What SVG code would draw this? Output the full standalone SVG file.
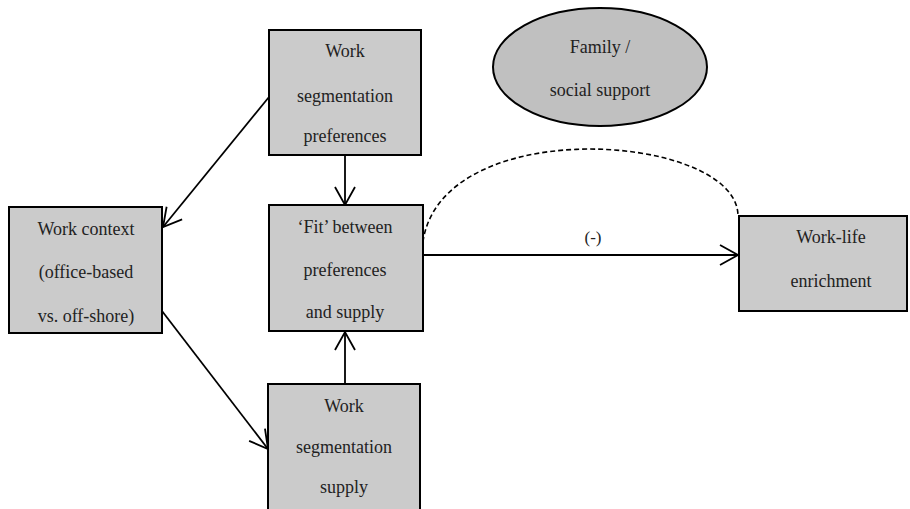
<svg xmlns="http://www.w3.org/2000/svg" width="910" height="509" viewBox="0 0 910 509">
<defs>
<marker id="arr" markerUnits="userSpaceOnUse" markerWidth="24" markerHeight="24" viewBox="-20 -12 22 24" refX="0" refY="0" orient="auto">
<path d="M-18,-10 L0,0 L-18,10" fill="none" stroke="#000" stroke-width="1.8"/>
</marker>
</defs>
<style>
.box{fill:#cbcbcb;stroke:#000;stroke-width:2}
.ell{fill:#c0c0c0;stroke:#000;stroke-width:2}
.t{font-family:"Liberation Serif","Times New Roman",serif;font-size:18px;fill:#222;text-anchor:middle}
.ln{fill:none;stroke:#000;stroke-width:1.8}
.dash{fill:none;stroke:#000;stroke-width:1.6;stroke-dasharray:5 3}
</style>
<rect width="910" height="509" fill="#fff"/>
<g id="connectors">
<line class="ln" x1="269" y1="97" x2="163" y2="227" marker-end="url(#arr)"/>
<line class="ln" x1="162" y1="311" x2="268" y2="449" marker-end="url(#arr)"/>
<line class="ln" x1="345" y1="155" x2="345" y2="205" marker-end="url(#arr)"/>
<line class="ln" x1="345" y1="384" x2="345" y2="332" marker-end="url(#arr)"/>
<line class="ln" x1="423" y1="255" x2="738" y2="255" marker-end="url(#arr)"/>
<path class="dash" d="M422 258 C418 110, 738 130, 738 216"/>
<text class="t" x="593" y="243" style="font-size:17px">(-)</text>
</g>
<g id="prefs">
<rect class="box" x="269" y="30" width="152" height="125"/>
<text class="t" x="345" y="57">Work</text>
<text class="t" x="345" y="102">segmentation</text>
<text class="t" x="345" y="142">preferences</text>
</g>
<g id="family">
<ellipse class="ell" cx="600" cy="67" rx="107" ry="59"/>
<text class="t" x="600" y="53">Family /</text>
<text class="t" x="600" y="96">social support</text>
</g>
<g id="context">
<rect class="box" x="9" y="207" width="153" height="126"/>
<text class="t" x="86" y="235">Work context</text>
<text class="t" x="86" y="278">(office-based</text>
<text class="t" x="86" y="322">vs. off-shore)</text>
</g>
<g id="fit">
<rect class="box" x="269" y="205" width="154" height="126"/>
<text class="t" x="345" y="233">‘Fit’ between</text>
<text class="t" x="345" y="276">preferences</text>
<text class="t" x="345" y="318">and supply</text>
</g>
<g id="enrichment">
<rect class="box" x="739" y="216" width="168" height="95"/>
<text class="t" x="831" y="243">Work-life</text>
<text class="t" x="831" y="287">enrichment</text>
</g>
<g id="supply">
<rect class="box" x="268" y="384" width="152" height="135"/>
<text class="t" x="344" y="412">Work</text>
<text class="t" x="344" y="453">segmentation</text>
<text class="t" x="344" y="493">supply</text>
</g>
</svg>
